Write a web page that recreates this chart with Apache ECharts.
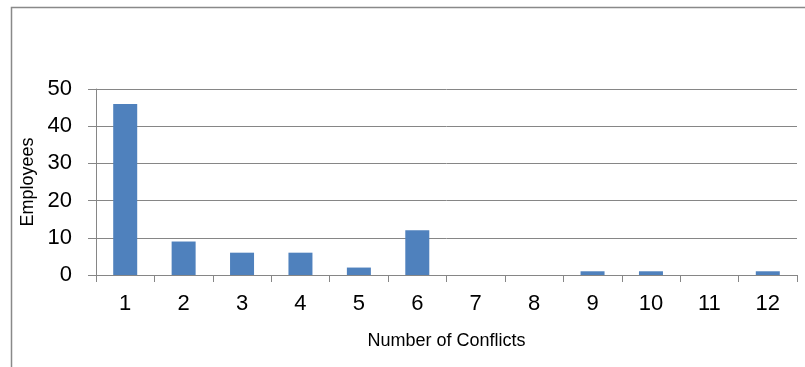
<!DOCTYPE html>
<html>
<head>
<meta charset="utf-8">
<script src="https://cdn.jsdelivr.net/npm/echarts@6/dist/echarts.min.js"></script>
<style>
html,body{margin:0;padding:0;background:#fff;}
#chart{width:805px;height:367px;}
</style>
</head>
<body>
<div id="chart"></div>
<script>
const categories = ['1','2','3','4','5','6','7','8','9','10','11','12'];
const employees = [46, 9, 6, 6, 2, 12, 0, 0, 1, 1, 0, 1];
const yTicks = [0, 10, 20, 30, 40, 50];

const chart = echarts.init(document.getElementById('chart'), null, {renderer: 'canvas'});
const font = '"Liberation Sans", Arial, sans-serif';
chart.setOption({
  animation: false,
  backgroundColor: '#ffffff',
  graphic: [{
    type: 'rect',
    shape: {x: 11.5, y: 7.5, width: 900, height: 500},
    style: {fill: 'none', stroke: '#898989', lineWidth: 1.5},
    silent: true,
    z: 0
  }],
  grid: {left: 96, right: 8, top: 89, bottom: 92, containLabel: false},
  xAxis: {
    type: 'category',
    data: categories,
    name: 'Number of Conflicts',
    nameLocation: 'middle',
    nameGap: 57,
    nameTextStyle: {fontFamily: font, fontSize: 18, color: '#000'},
    axisLine: {show: true, lineStyle: {color: '#868686', width: 1}},
    axisTick: {show: true, alignWithLabel: false, length: 7, lineStyle: {color: '#868686'}},
    axisLabel: {fontFamily: font, fontSize: 22, color: '#000', margin: 18},
    splitLine: {show: false}
  },
  yAxis: {
    type: 'value',
    min: yTicks[0],
    max: yTicks[yTicks.length - 1],
    interval: 10,
    name: 'Employees',
    nameLocation: 'middle',
    nameRotate: 90,
    nameGap: 57,
    nameTextStyle: {fontFamily: font, fontSize: 18, color: '#000'},
    axisLine: {show: true, lineStyle: {color: '#868686', width: 1}},
    axisTick: {show: true, length: 8, lineStyle: {color: '#868686'}},
    axisLabel: {fontFamily: font, fontSize: 22, color: '#000', margin: 24},
    splitLine: {show: true, lineStyle: {color: '#868686', width: 1}}
  },
  series: [{
    type: 'bar',
    data: employees,
    barWidth: 24,
    itemStyle: {color: '#4F81BD'}
  }]
});
</script>
</body>
</html>
